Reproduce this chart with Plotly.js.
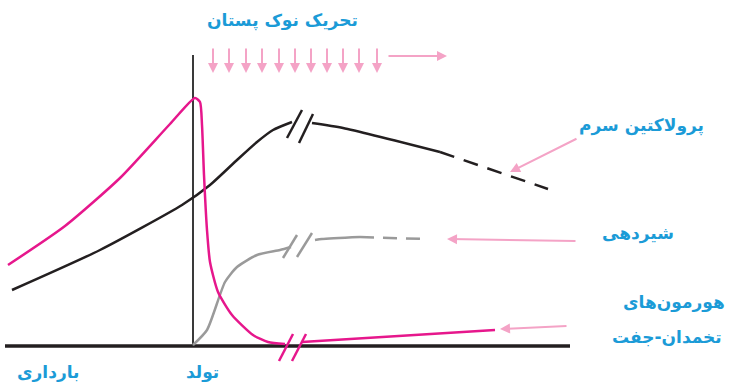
<!DOCTYPE html>
<html>
<head>
<meta charset="utf-8">
<script src="https://cdn.plot.ly/plotly-3.0.1.min.js"></script>
<style>
  body { margin: 0; background: #fff; }
  #chart { width: 731px; height: 386px; }
</style>
</head>
<body>
<div id="chart"></div>
<script>
// ============================================
// DATA  (x: time, 0 = birth / y: level, 0 = baseline)
// ============================================

// serum prolactin (black)
const prlX = [-181, -93, -11, 17, 44, 64, 80, 99];
const prlY = [56, 96, 141, 161, 186, 204, 216, 224];
const prlAfterX = [119, 150, 247];
const prlAfterY = [223, 218, 194];
const prlDashX = [247, 355];
const prlDashY = [194, 157];

// lactation (gray)
const milkX = [0, 14, 32, 44, 64, 87, 98];
const milkY = [1, 16, 64, 79, 91, 96, 99];
const milkAfterX = [122, 129, 167];
const milkAfterY = [106, 107, 109];
const milkDashX = [167, 232];
const milkDashY = [109, 107];

// ovarian / placental hormones (magenta)
const hormX = [-185, -128, -73, -23, 2, 7, 9, 11, 14, 17, 25, 39, 60, 75, 92];
const hormY = [81, 120, 168, 222, 248, 244, 221, 171, 116, 84, 54, 31, 11, 4, 2];
const hormAfterX = [109, 302];
const hormAfterY = [4, 16];

// axis break marks: [x0, y0, x1, y1]
const prlBreaks = [[94, 208, 109, 236], [106, 203, 120, 232]];
const milkBreaks = [[90, 88, 104, 111], [104, 89, 119, 113]];
const hormBreaks = [[86, -15, 100, 12], [99, -15, 113, 12]];

// nipple stimulation arrows
const stimX = [20, 36, 53, 69, 86, 102, 118, 134, 150, 166, 184];
const stimTop = 299;
const stimBottom = 273;

// labels
const labelText = ['تحریک نوک پستان', 'پرولاکتین سرم', 'شیردهی', 'هورمون‌های', 'تخمدان-جفت', 'بارداری', 'تولد'];
const labelX = [89, 448, 445, 481, 474, -145, 9];
const labelY = [326, 221, 113, 44, 9, -26, -26];

// pointer arrows from labels: [tailX, tailY, headX, headY]
const pointers = [[385, 208, 317, 174], [384, 105, 254, 107], [375, 20, 307, 17]];

// ============================================
// STYLE
// ============================================
const BLACK = '#231f20';
const GRAY = '#9a9a9a';
const MAGENTA = '#e6178c';
const LIGHT_PINK = '#f4a3c6';
const BLUE = '#1b9bd7';

function line(x, y, color, width, dash) {
  return {
    x: x, y: y, type: 'scatter', mode: 'lines', hoverinfo: 'skip',
    line: { color: color, width: width, dash: dash || 'solid', shape: 'spline', smoothing: 0.6 }
  };
}

function breakTraces(marks, color) {
  return marks.map(m => ({
    x: [m[0], m[2]], y: [m[1], m[3]], type: 'scatter', mode: 'lines', hoverinfo: 'skip',
    line: { color: color, width: 2.5 }
  }));
}

const traces = [
  // baseline + birth line
  { x: [-188, 377], y: [0, 0], type: 'scatter', mode: 'lines', hoverinfo: 'skip', line: { color: BLACK, width: 3.5 } },
  { x: [0, 0], y: [0, 291], type: 'scatter', mode: 'lines', hoverinfo: 'skip', line: { color: '#3a3a3a', width: 2 } },

  line(prlX, prlY, BLACK, 2.5),
  line(prlAfterX, prlAfterY, BLACK, 2.5),
  line(prlDashX, prlDashY, BLACK, 2.5, '15px,10px'),

  line(milkX, milkY, GRAY, 2.5),
  line(milkAfterX, milkAfterY, GRAY, 2.5),
  line(milkDashX, milkDashY, GRAY, 2.5, '14px,9px'),

  line(hormX, hormY, MAGENTA, 2.5),
  line(hormAfterX, hormAfterY, MAGENTA, 2.5)
]
  .concat(breakTraces(prlBreaks, BLACK))
  .concat(breakTraces(milkBreaks, GRAY))
  .concat(breakTraces(hormBreaks, MAGENTA));

// ============================================
// ANNOTATIONS
// ============================================
function arrow(tx, ty, hx, hy) {
  return {
    x: hx, y: hy, ax: tx, ay: ty, xref: 'x', yref: 'y', axref: 'x', ayref: 'y',
    showarrow: true, arrowhead: 2, arrowsize: 1, arrowwidth: 2, arrowcolor: LIGHT_PINK,
    standoff: 0, startstandoff: 0, text: ''
  };
}

const annotations = [];

stimX.forEach(x => annotations.push(arrow(x, stimTop, x, stimBottom)));
annotations.push(arrow(194, 290, 254, 290));
pointers.forEach(p => annotations.push(arrow(p[0], p[1], p[2], p[3])));

labelText.forEach((t, i) => {
  annotations.push({
    x: labelX[i], y: labelY[i], xref: 'x', yref: 'y', text: t, showarrow: false,
    xanchor: 'center', yanchor: 'middle',
    font: { family: 'DejaVu Sans', size: 17, color: BLUE, weight: 'bold' }
  });
});

const layout = {
  width: 731,
  height: 386,
  margin: { l: 0, r: 0, t: 0, b: 0 },
  paper_bgcolor: '#fff',
  plot_bgcolor: '#fff',
  showlegend: false,
  xaxis: { range: [-193, 538], visible: false, fixedrange: true },
  yaxis: { range: [-40, 346], visible: false, fixedrange: true },
  annotations: annotations
};

Plotly.newPlot('chart', traces, layout, { staticPlot: true });
</script>
</body>
</html>
